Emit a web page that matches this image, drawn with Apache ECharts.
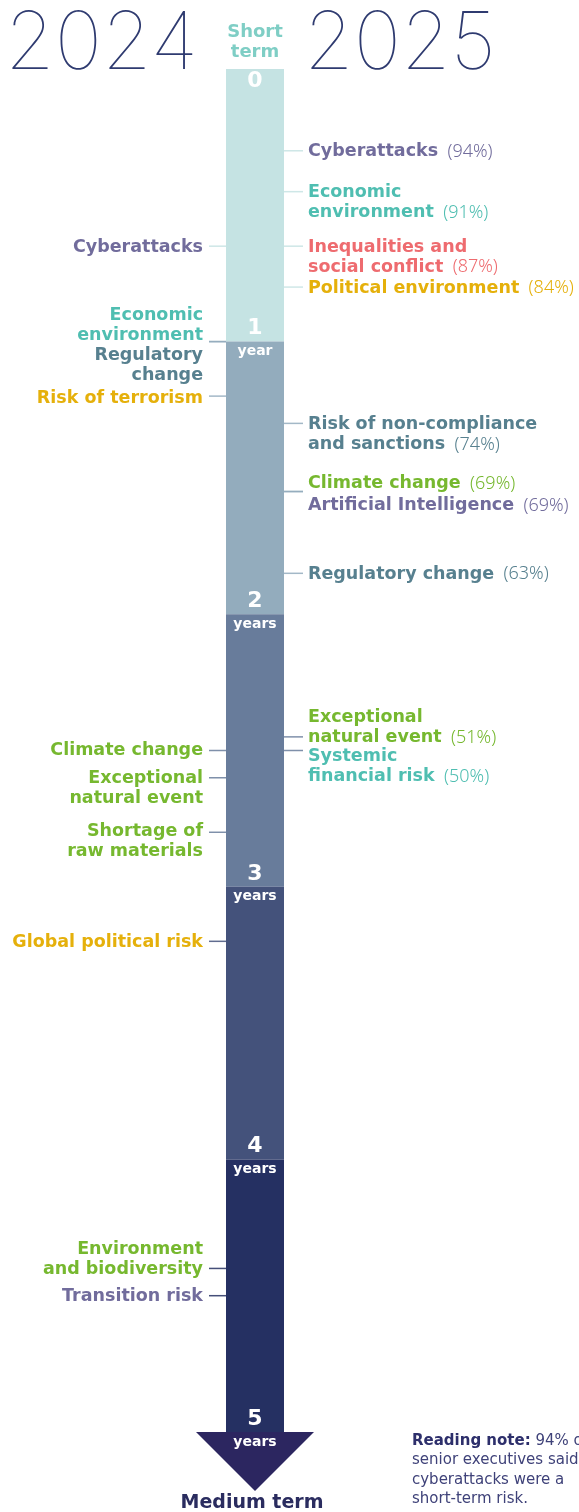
<!DOCTYPE html>
<html><head><meta charset="utf-8">
<script src="https://cdn.jsdelivr.net/npm/echarts@6/dist/echarts.min.js"></script>
<style>html,body{margin:0;padding:0;background:#fff;overflow:hidden}#c{width:579px;height:1512px}</style>
</head><body><div id="c"></div>
<script>
// ---------------- data ----------------
const horizonYears = [0, 1, 2, 3, 4, 5];
const yearNumbers = ['0', '1', '2', '3', '4', '5'];
const yearUnits = ['', 'year', 'years', 'years', 'years', 'years'];
const segmentLengths = [1, 1, 1, 1, 1];

const risks2025 = ['Cyberattacks', 'Economic\nenvironment', 'Inequalities and\nsocial conflict', 'Political environment',
  'Risk of non-compliance\nand sanctions', 'Climate change', 'Artificial Intelligence', 'Regulatory change',
  'Exceptional\nnatural event', 'Systemic\nfinancial risk'];
const share2025 = [94, 91, 87, 84, 74, 69, 69, 63, 51, 50];
const horizon2025 = [0.3, 0.45, 0.65, 0.8, 1.3, 1.55, 1.55, 1.85, 2.45, 2.5];
const theme2025 = ['cyber', 'economic', 'social', 'political', 'regulatory', 'climate', 'cyber', 'regulatory', 'climate', 'economic'];

const risks2024 = ['Cyberattacks', 'Economic\nenvironment', 'Regulatory\nchange', 'Risk of terrorism', 'Climate change',
  'Exceptional\nnatural event', 'Shortage of\nraw materials', 'Global political risk', 'Environment\nand biodiversity', 'Transition risk'];
const horizon2024 = [0.65, 1.0, 1.0, 1.2, 2.5, 2.6, 2.8, 3.2, 4.4, 4.5];
const theme2024 = ['cyber', 'economic', 'regulatory', 'political', 'climate', 'climate', 'climate', 'political', 'climate', 'cyber'];

const titleYears = ['2024', '2025'];
const axisEnds = ['Short\nterm', 'Medium term'];
const noteLead = 'Reading note:';
const noteBody = ['94% of', 'senior executives said', 'cyberattacks were a', 'short-term risk.'];

// ---------------- styles / layout ----------------
const FONT = 'DejaVu Sans';
const LIGHT = 'Noto Sans';
const segmentColors = ['#c5e3e3', '#93acbd', '#687c9b', '#44527b', '#253062'];
const arrowColor = '#2c2660';
const themeColors = {
  cyber: '#716c9c', economic: '#4fbeb1', social: '#ee6b6f', political: '#e5b00b',
  regulatory: '#57808f', climate: '#76b82f'
};
const nudge2025 = [0, 0, 0, 0, 0, -9, 13, 0, -20, 5];
const nudge2024 = [0, -27, 13, 1, -1, 0, -2, 0, -20, 0];
const HALF = 29, LINE_H = 20, NAME_SIZE = 17.5, TEXT_SHIFT = 1;

function richFor(color) {
  return {
    b: { fontFamily: FONT, fontWeight: 'bold', fontSize: NAME_SIZE, fill: color, lineHeight: LINE_H },
    p: { fontFamily: LIGHT, fontWeight: 300, fontSize: NAME_SIZE + 0.5, fill: color, lineHeight: LINE_H }
  };
}

function labelSeries(names, horizons, themes, nudges, side, shares) {
  return {
    type: 'custom', coordinateSystem: 'cartesian2d', silent: true, z: 5,
    data: horizons.map((h, i) => [0, h, i]),
    encode: { x: 0, y: 1 },
    renderItem(params, api) {
      const i = api.value(2);
      const h = api.value(1);
      const p = api.coord([api.value(0), h]);
      const seg = Math.min(4, Math.floor(h + 1e-9));
      const lines = names[i].split('\n');
      const text = lines.map((l, j) => '{b|' + l + '}' +
        (shares && j === lines.length - 1 ? '{p|  (' + shares[i] + '%)}' : '')).join('\n');
      const color = themeColors[themes[i]];
      const right = side === 'right';
      return {
        type: 'group', children: [
          { type: 'line', shape: right ? { x1: p[0] + HALF, y1: p[1], x2: p[0] + HALF + 19, y2: p[1] }
                                       : { x1: p[0] - HALF - 17, y1: p[1], x2: p[0] - HALF, y2: p[1] },
            style: { stroke: segmentColors[seg], lineWidth: 1.5, opacity: 0.85 } },
          { type: 'text', x: right ? p[0] + HALF + 24 : p[0] - HALF - 23,
            y: p[1] + nudges[i] - LINE_H / 2 + TEXT_SHIFT,
            style: { text: text, rich: richFor(color), align: right ? 'left' : 'right', verticalAlign: 'top' } }
        ]
      };
    }
  };
}

const chart = echarts.init(document.getElementById('c'), null, { renderer: 'canvas' });
const series = [];
segmentLengths.forEach((len, k) => {
  series.push({ type: 'bar', stack: 'horizon', barWidth: 2 * HALF, data: [len], silent: true, z: 2,
    itemStyle: { color: segmentColors[k] } });
});
series.push({
  type: 'custom', coordinateSystem: 'cartesian2d', silent: true, z: 3,
  data: [[0, horizonYears[horizonYears.length - 1]]], encode: { x: 0, y: 1 },
  renderItem(params, api) {
    const p = api.coord([api.value(0), api.value(1)]);
    return { type: 'polygon', shape: { points: [[p[0] - 59, p[1]], [p[0] + 59, p[1]], [p[0], p[1] + 59]] },
      style: { fill: arrowColor } };
  }
});
series.push({
  type: 'custom', coordinateSystem: 'cartesian2d', silent: true, z: 6,
  data: horizonYears.map((y, i) => [0, y, i]), encode: { x: 0, y: 1 },
  renderItem(params, api) {
    const i = api.value(2);
    const p = api.coord([api.value(0), api.value(1)]);
    const children = [{ type: 'text', x: p[0], y: p[1] + (i === 0 ? 12 : -13),
      style: { text: yearNumbers[i], fontFamily: FONT, fontWeight: 'bold', fontSize: 22, fill: '#fff',
        align: 'center', verticalAlign: 'middle' } }];
    if (yearUnits[i]) children.push({ type: 'text', x: p[0], y: p[1] + 10,
      style: { text: yearUnits[i], fontFamily: FONT, fontWeight: 'bold', fontSize: 14, fill: '#fff',
        align: 'center', verticalAlign: 'middle' } });
    return { type: 'group', children };
  }
});
series.push(labelSeries(risks2025, horizon2025, theme2025, nudge2025, 'right', share2025));
series.push(labelSeries(risks2024, horizon2024, theme2024, nudge2024, 'left', null));

chart.setOption({
  animation: false,
  grid: { left: 0, right: 69, top: 69, bottom: 80 },
  xAxis: { type: 'category', data: ['horizon'], show: false },
  yAxis: { type: 'value', min: 0, max: 5, inverse: true, show: false },
  graphic: [
    { type: 'text', x: 5, y: 44.5, style: { text: titleYears[0], fontFamily: 'Inter', fontWeight: 100, fontSize: 80,
      fill: '#2f3b70', align: 'left', verticalAlign: 'middle' } },
    { type: 'text', x: 304, y: 44.5, style: { text: titleYears[1], fontFamily: 'Inter', fontWeight: 100, fontSize: 80,
      fill: '#2f3b70', align: 'left', verticalAlign: 'middle' } },
    { type: 'text', x: 255, y: 22, style: { text: axisEnds[0], fontFamily: FONT, fontWeight: 'bold', fontSize: 18,
      lineHeight: 20, fill: '#7fcec5', align: 'center', verticalAlign: 'top' } },
    { type: 'text', x: 252, y: 1503, style: { text: axisEnds[1], fontFamily: FONT, fontWeight: 'bold', fontSize: 19,
      fill: '#2a2c5f', align: 'center', verticalAlign: 'middle' } },
    { type: 'text', x: 412, y: 1431, style: {
      text: '{b|' + noteLead + '}{n| ' + noteBody[0] + '}\n' + noteBody.slice(1).map(t => '{n|' + t + '}').join('\n'),
      align: 'left', verticalAlign: 'top',
      rich: { b: { fontFamily: FONT, fontWeight: 'bold', fontSize: 15, lineHeight: 19.5, fill: '#2d2f6b' },
              n: { fontFamily: FONT, fontSize: 15, lineHeight: 19.5, fill: '#3f4279' } } } }
  ],
  series: series
});
</script></body></html>
